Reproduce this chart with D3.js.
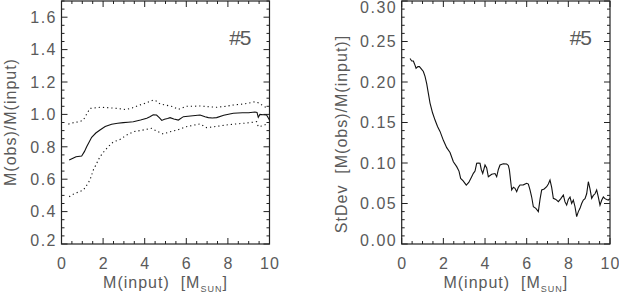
<!DOCTYPE html>
<html><head><meta charset="utf-8">
<script src="https://cdn.jsdelivr.net/npm/d3@7"></script>
<style>body{margin:0;background:#fff}svg text{font-family:"Liberation Sans",Arial,sans-serif;fill:#5a5a5a;white-space:pre}</style>
</head><body><svg id="c" width="619" height="299"></svg>
<script>
// Left panel: M(obs)/M(input) mean and ±1σ
const meanX = [0.37,0.55,0.70,0.97,1.10,1.21,1.45,1.65,1.85,2.1,2.41,2.7,2.97,3.2,3.45,3.8,4.1,4.25,4.41,4.57,4.7,4.82,4.95,5.1,5.22,5.4,5.62,5.86,6.2,6.66,6.9,7.06,7.25,7.46,7.8,8.26,8.7,9.0,9.3,9.4,9.46,9.54,9.7,9.86,10.0];
const meanY = [0.719,0.730,0.739,0.743,0.770,0.800,0.859,0.885,0.904,0.925,0.939,0.945,0.949,0.952,0.955,0.965,0.976,0.985,0.998,0.996,0.980,0.963,0.970,0.975,0.980,0.972,0.965,0.986,0.990,0.996,0.985,0.980,0.978,0.980,0.995,1.007,1.010,1.010,1.015,1.012,0.982,1.000,0.998,0.996,0.965];
const upX = [0.33,0.6,0.85,1.05,1.2,1.37,1.6,1.85,2.2,2.65,3.1,3.4,3.77,4.1,4.41,4.6,4.74,5.0,5.37,5.62,6.0,6.3,6.66,7.0,7.46,7.9,8.26,8.8,9.3,9.5,9.7,9.94];
const upY = [0.940,0.950,0.955,0.965,1.000,1.037,1.040,1.044,1.042,1.037,1.030,1.040,1.058,1.072,1.089,1.080,1.064,1.058,1.047,1.031,1.050,1.050,1.052,1.048,1.044,1.050,1.058,1.065,1.078,1.070,1.052,1.037];
const loX = [0.37,0.6,0.85,1.05,1.2,1.37,1.53,1.7,1.85,2.1,2.33,2.49,2.81,3.1,3.45,3.9,4.34,4.6,4.89,5.22,5.6,6.0,6.3,6.66,6.98,7.4,7.94,8.3,8.74,9.1,9.38,9.46,9.7,9.94];
const loY = [0.492,0.510,0.522,0.533,0.560,0.595,0.657,0.700,0.739,0.780,0.811,0.830,0.845,0.870,0.893,0.903,0.914,0.895,0.879,0.893,0.905,0.924,0.932,0.941,0.918,0.925,0.935,0.940,0.945,0.950,0.955,0.924,0.930,0.945];
// Right panel: StDev
const sdX = [0.40,0.48,0.56,0.62,0.69,0.78,0.85,0.95,1.04,1.12,1.2,1.28,1.36,1.48,1.6,1.72,1.84,2.0,2.16,2.32,2.48,2.64,2.75,2.83,2.95,3.1,3.22,3.36,3.44,3.52,3.6,3.68,3.76,3.82,3.89,4.0,4.08,4.16,4.32,4.48,4.56,4.64,4.72,4.88,5.04,5.12,5.17,5.28,5.36,5.44,5.52,5.6,5.68,5.84,6.0,6.08,6.16,6.24,6.32,6.44,6.56,6.64,6.72,6.84,6.96,7.04,7.12,7.2,7.28,7.4,7.52,7.64,7.76,7.84,7.92,8.0,8.08,8.16,8.24,8.32,8.4,8.48,8.56,8.64,8.72,8.8,8.88,8.96,9.04,9.12,9.2,9.28,9.36,9.44,9.52,9.6,9.68,9.76,9.84,9.92,10.0];
const sdY = [0.229,0.226,0.226,0.222,0.217,0.219,0.219,0.216,0.213,0.207,0.198,0.186,0.174,0.162,0.153,0.145,0.139,0.128,0.119,0.113,0.1016,0.0955,0.090,0.081,0.078,0.0728,0.076,0.083,0.0872,0.090,0.0996,0.100,0.0996,0.092,0.087,0.0975,0.094,0.083,0.086,0.087,0.083,0.092,0.0975,0.099,0.0988,0.097,0.0914,0.0667,0.070,0.0687,0.0646,0.070,0.0728,0.073,0.0749,0.074,0.0667,0.058,0.046,0.044,0.040,0.055,0.0667,0.068,0.0707,0.074,0.079,0.070,0.0564,0.055,0.0522,0.056,0.0605,0.052,0.048,0.055,0.058,0.050,0.0543,0.046,0.0337,0.040,0.044,0.050,0.0543,0.056,0.062,0.0769,0.068,0.0564,0.060,0.062,0.0667,0.058,0.048,0.054,0.058,0.056,0.055,0.0543,0.056];

const leftTicks = [0.2,0.4,0.6,0.8,1.0,1.2,1.4,1.6];
const rightTicks = [0.00,0.05,0.10,0.15,0.20,0.25,0.30];
const xTicks = [0,2,4,6,8,10];

const svg = d3.select("#c");
const FS = 16;

function panel(o){
  const g = svg.append("g");
  const x = d3.scaleLinear().domain([0,10]).range([o.x0,o.x1]);
  const y = d3.scaleLinear().domain(o.ydom).range([244,1]);
  const stroke="#222";
  g.append("rect").attr("x",o.x0).attr("y",1).attr("width",o.x1-o.x0).attr("height",243)
    .attr("fill","none").attr("stroke",stroke).attr("stroke-width",1.2);
  const xMinor = d3.range(0,10.001,0.5);
  xMinor.forEach(v=>{
    const major = Math.abs(v-Math.round(v/2)*2)<1e-6;
    const L = major?6:3;
    g.append("line").attr("x1",x(v)).attr("x2",x(v)).attr("y1",244).attr("y2",244-L).attr("stroke",stroke);
    g.append("line").attr("x1",x(v)).attr("x2",x(v)).attr("y1",1).attr("y2",1+L).attr("stroke",stroke);
  });
  const yMinor = d3.range(o.ydom[0],o.ydom[1]+1e-9,o.minor);
  yMinor.forEach(v=>{
    const major = o.ticks.some(t=>Math.abs(t-v)<1e-6);
    const L = major?6:3;
    g.append("line").attr("y1",y(v)).attr("y2",y(v)).attr("x1",o.x0).attr("x2",o.x0+L).attr("stroke",stroke);
    g.append("line").attr("y1",y(v)).attr("y2",y(v)).attr("x1",o.x1).attr("x2",o.x1-L).attr("stroke",stroke);
  });
  o.ticks.forEach(t=>{
    const cy = Math.max(7.5, Math.min(240, y(t)));
    g.append("text").attr("x",o.x0-4.5).attr("y",cy).attr("dy","0.36em").attr("text-anchor","end")
      .attr("font-size",FS).attr("letter-spacing",1.5).text(d3.format(o.fmt)(t));
  });
  xTicks.forEach(t=>{
    g.append("text").attr("x",x(t)+0.5).attr("y",269).attr("text-anchor","middle")
      .attr("font-size",FS).attr("letter-spacing",1).text(t);
  });
  const xt = g.append("text").attr("x",(o.x0+o.x1)/2).attr("y",288).attr("text-anchor","middle")
    .attr("font-size",FS).attr("letter-spacing",1);
  xt.append("tspan").text("M(input)  [M");
  xt.append("tspan").attr("font-size",9).attr("dy",4).text("SUN");
  xt.append("tspan").attr("dy",-4).text("]");
  g.append("text").attr("transform",`translate(${o.ytx},${o.ycy}) rotate(-90)`).attr("text-anchor","middle")
    .attr("dy","0.36em").attr("font-size",FS).attr("letter-spacing",1).text(o.ytitle);
  g.append("text").attr("x",o.x1-19).attr("y",45).attr("text-anchor","end").attr("font-size",21)
    .attr("letter-spacing",-1).text("#5");
  const line = d3.line().x(d=>x(d[0])).y(d=>y(d[1]));
  o.series.forEach(s=>{
    g.append("path").attr("d",line(d3.zip(s.x,s.y))).attr("fill","none").attr("stroke","#111")
      .attr("stroke-width",1.1).attr("stroke-dasharray",s.dash?"1.2,3":null);
  });
}
panel({x0:61.5,x1:269.5,ydom:[0.2,1.7],ticks:leftTicks,minor:0.05,fmt:".1f",ytx:10,ycy:122,ytitle:"M(obs)/M(input)",
  series:[{x:meanX,y:meanY},{x:upX,y:upY,dash:true},{x:loX,y:loY,dash:true}]});
panel({x0:401.7,x1:610,ydom:[0,0.30],ticks:rightTicks,minor:0.01,fmt:".2f",ytx:341,ycy:134,ytitle:"StDev  [M(obs)/M(input)]",
  series:[{x:sdX,y:sdY}]});
</script></body></html>
